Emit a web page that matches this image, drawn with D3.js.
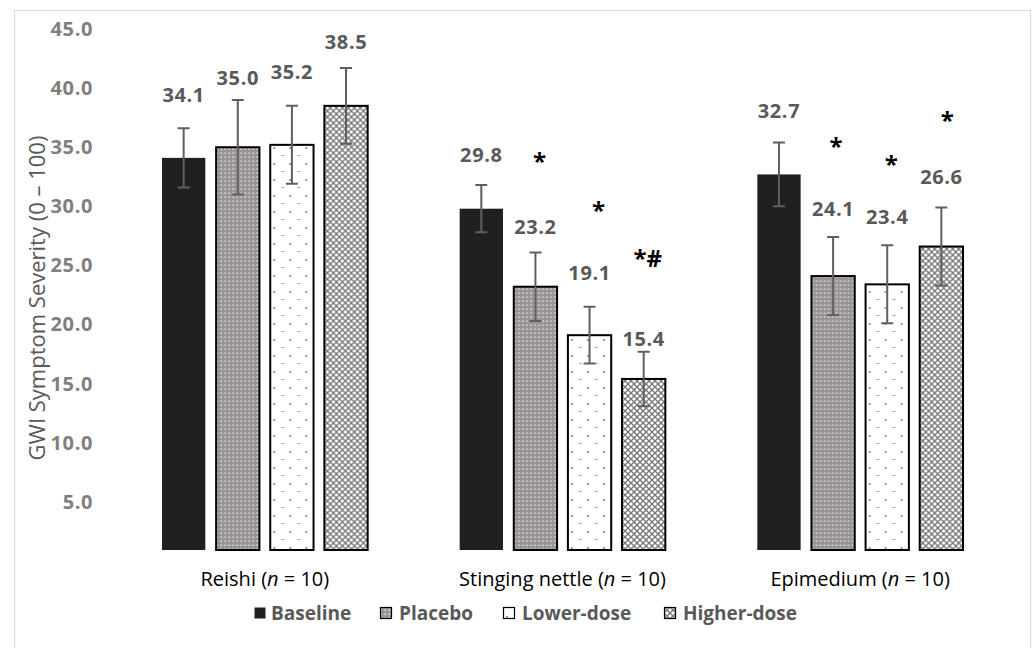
<!DOCTYPE html>
<html>
<head>
<meta charset="utf-8">
<script src="https://cdn.jsdelivr.net/npm/d3@7"></script>
<style>
  html, body { margin: 0; padding: 0; background: #fff; }
  svg { display: block; font-family: "Open Sans", "Liberation Sans", sans-serif; }
</style>
</head>
<body>
<svg id="chart" width="1033" height="648"></svg>
<script>
// data
const groups = ["Reishi", "Stinging nettle", "Epimedium"];
const groupN = [10, 10, 10];
const series = ["Baseline", "Placebo", "Lower-dose", "Higher-dose"];

const baselineVals = [34.1, 29.8, 32.7];
const placeboVals = [35.0, 23.2, 24.1];
const lowerVals = [35.2, 19.1, 23.4];
const higherVals = [38.5, 15.4, 26.6];

const baselineErr = [2.5, 2.0, 2.7];
const placeboErr = [4.0, 2.9, 3.3];
const lowerErr = [3.3, 2.4, 3.3];
const higherErr = [3.2, 2.3, 3.3];

const baselineSig = ["", "", ""];
const placeboSig = ["", "*", "*"];
const lowerSig = ["", "*", "*"];
const higherSig = ["", "*#", "*"];

const yTicks = [5, 10, 15, 20, 25, 30, 35, 40, 45];

const vals = [baselineVals, placeboVals, lowerVals, higherVals];
const errs = [baselineErr, placeboErr, lowerErr, higherErr];
const sigs = [baselineSig, placeboSig, lowerSig, higherSig];

// layout tweaks (hand placed labels in the original), indexed [group][series]
const labelLift = [[63, 70, 73, 64], [54, 60, 63, 40], [64, 68, 68, 70]];
const sigLift = [[0, 0, 0, 0], [0, 70, 66, 85], [0, 66, 56, 61]];
const sigDx = [[0, 0, 0, 0], [0, 4, 9, 4], [0, 3, 4, 6]];

const svg = d3.select("#chart");
const defs = svg.append("defs");

// placebo: grey with a fine light grid
const p1 = defs.append("pattern").attr("id", "patPlacebo")
  .attr("patternUnits", "userSpaceOnUse").attr("width", 4).attr("height", 4);
p1.append("rect").attr("width", 4).attr("height", 4).attr("fill", "#9a9494");
p1.append("rect").attr("x", 0).attr("y", 0).attr("width", 2).attr("height", 2).attr("fill", "#bab5b5");
p1.append("rect").attr("x", 1).attr("y", 1).attr("width", 1).attr("height", 1).attr("fill", "#dcd9d9");

// lower dose: white with sparse dots and dashes
const p2 = defs.append("pattern").attr("id", "patLower")
  .attr("patternUnits", "userSpaceOnUse").attr("width", 16).attr("height", 16);
p2.append("rect").attr("width", 16).attr("height", 16).attr("fill", "#fff");
p2.append("rect").attr("x", 3).attr("y", 3).attr("width", 2).attr("height", 2).attr("fill", "#9a9a9a");
p2.append("rect").attr("x", 11).attr("y", 11).attr("width", 3).attr("height", 1).attr("fill", "#a6a6a6");

// higher dose: diamond lattice
const p3 = defs.append("pattern").attr("id", "patHigher")
  .attr("patternUnits", "userSpaceOnUse").attr("width", 6).attr("height", 6);
p3.append("rect").attr("width", 6).attr("height", 6).attr("fill", "#fff");
p3.append("path").attr("d", "M0,0L6,6M6,0L0,6").attr("stroke", "#767676").attr("stroke-width", 1.3);

const fills = ["#202020", "url(#patPlacebo)", "url(#patLower)", "url(#patHigher)"];
const strokes = ["none", "#000", "#000", "#000"];

// outer frame
svg.append("rect")
  .attr("x", 14.5).attr("y", 10.5).attr("width", 1016).attr("height", 645)
  .attr("fill", "none").attr("stroke", "#d9d9d9");

const plotBottom = 550;
const y = d3.scaleLinear().domain([0, 45]).range([561, 29]);
const x0 = d3.scaleBand().domain(groups).range([116, 1009]);
const x1 = d3.scaleBand().domain(series)
  .range([46, x0.bandwidth() - 46]).paddingInner(0.2);

const numFont = { size: 20, spacing: 0.6 };

// y tick labels (no axis line)
const yAxis = d3.axisLeft(y).tickValues(yTicks).tickFormat(d3.format(".1f"))
  .tickSize(0).tickPadding(0);
const ya = svg.append("g").attr("transform", "translate(93,0)").call(yAxis);
ya.select(".domain").remove();
ya.selectAll("text")
  .attr("fill", "#7f7f7f").attr("font-size", numFont.size).attr("font-weight", "bold")
  .attr("letter-spacing", numFont.spacing)
  .attr("font-family", "'Open Sans', sans-serif");

svg.append("text")
  .attr("transform", "translate(36,298) rotate(-90)")
  .attr("text-anchor", "middle").attr("dominant-baseline", "central")
  .attr("fill", "#595959").attr("font-size", 22)
  .text("GWI Symptom Severity (0 \u2013 100)");

// bars
const rows = [];
groups.forEach((g, gi) => {
  series.forEach((s, si) => {
    rows.push({ g, gi, s, si, v: vals[si][gi], e: errs[si][gi], sig: sigs[si][gi] });
  });
});

const bars = svg.append("g").selectAll("g").data(rows).enter().append("g")
  .attr("transform", d => `translate(${x0(d.g) + x1(d.s)},0)`);

bars.append("rect")
  .attr("x", 0).attr("width", x1.bandwidth())
  .attr("y", d => y(d.v)).attr("height", d => plotBottom - y(d.v))
  .attr("fill", d => fills[d.si])
  .attr("stroke", d => strokes[d.si]).attr("stroke-width", 2);

const cx = x1.bandwidth() / 2;
bars.append("path")
  .attr("d", d => {
    const t = y(d.v + d.e), b = y(d.v - d.e);
    return `M${cx},${t}V${b}M${cx - 6},${t}H${cx + 6}M${cx - 6},${b}H${cx + 6}`;
  })
  .attr("stroke", "#5f5f5f").attr("stroke-width", 2).attr("fill", "none");

bars.append("text")
  .attr("x", cx).attr("y", d => y(d.v) - labelLift[d.gi][d.si])
  .attr("text-anchor", "middle").attr("dominant-baseline", "central")
  .attr("fill", "#595959").attr("font-size", numFont.size).attr("font-weight", "bold")
  .attr("letter-spacing", numFont.spacing)
  .text(d => d.v.toFixed(1));

bars.filter(d => d.sig).append("text")
  .attr("x", d => cx + sigDx[d.gi][d.si])
  .attr("y", d => y(d.v) - labelLift[d.gi][d.si] - sigLift[d.gi][d.si] + 13)
  .attr("text-anchor", "middle")
  .attr("fill", "#000").attr("font-size", 24).attr("font-weight", "bold")
  .text(d => d.sig);

// category labels
const cat = svg.append("g").selectAll("text").data(groups).enter().append("text")
  .attr("x", d => x0(d) + x0.bandwidth() / 2).attr("y", 578)
  .attr("text-anchor", "middle").attr("dominant-baseline", "central")
  .attr("fill", "#000").attr("font-size", 20);
cat.append("tspan").text(d => d + " (");
cat.append("tspan").attr("font-style", "italic").text("n");
cat.append("tspan").text((d, i) => " = " + groupN[i] + ")");

// legend
const legendX = [254, 380, 503, 664];
const leg = svg.append("g").selectAll("g").data(series).enter().append("g")
  .attr("transform", (d, i) => `translate(${legendX[i]},613)`);
leg.append("rect")
  .attr("x", 0.5).attr("y", -5.5).attr("width", 11).attr("height", 11)
  .attr("fill", (d, i) => fills[i]).attr("stroke", (d, i) => strokes[i]).attr("stroke-width", 1.2);
leg.append("text")
  .attr("x", (d, i) => i === 0 ? 17 : 19).attr("y", 0)
  .attr("dominant-baseline", "central")
  .attr("fill", "#595959").attr("font-size", 19).attr("font-weight", "bold")
  .text(d => d);
</script>
</body>
</html>
